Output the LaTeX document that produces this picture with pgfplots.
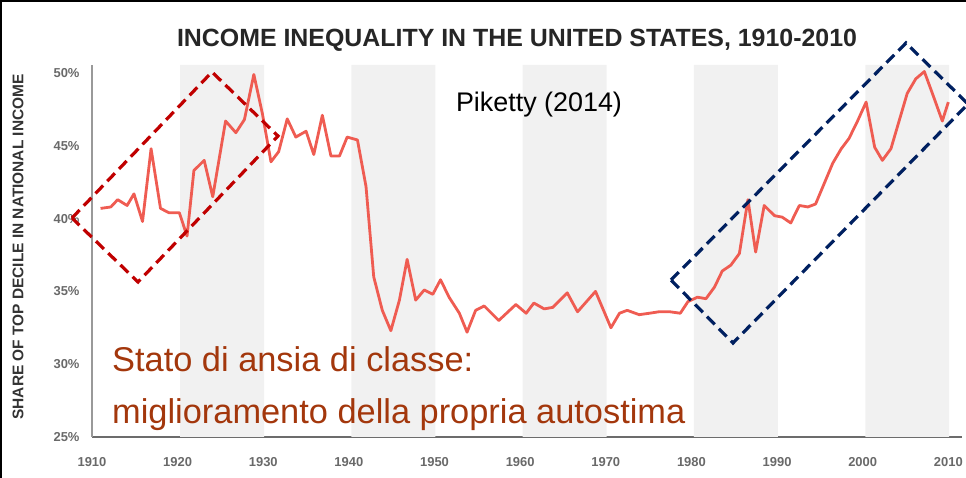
\documentclass[border=0pt]{standalone}
\usepackage{pgfplots}
\pgfplotsset{compat=1.18}
\usepackage{fontspec}
\setmainfont{Liberation Sans}
\definecolor{linered}{RGB}{239,92,82}
\definecolor{bandgray}{RGB}{241,241,241}
\definecolor{ticktxt}{RGB}{105,105,105}
\definecolor{annot}{RGB}{163,55,12}
\definecolor{boxred}{RGB}{192,0,0}
\definecolor{boxblue}{RGB}{0,32,96}
\begin{document}
\begin{tikzpicture}[x=1bp,y=1bp]
\path[use as bounding box] (0,0) rectangle (966,478);
\begin{axis}[
  at={(92bp,41bp)}, anchor=south west,
  scale only axis, width=870bp, height=372bp,
  xmin=1910, xmax=2011.6, ymin=25, ymax=50.55,
  axis lines=left,
  x axis line style={-, draw=gray!85!black, line width=2bp},
  y axis line style={-, draw=gray!80, line width=1.5bp},
  xtick={1910,1920,...,2010},
  xticklabels={1910,1920,1930,1940,1950,1960,1970,1980,1990,2000,2010},
  ytick={25,30,...,50},
  yticklabels={25\%,30\%,35\%,40\%,45\%,50\%},
  major tick length=0pt,
  tick label style={font=\fontsize{13}{13}\selectfont\bfseries, text=ticktxt},
  xticklabel style={yshift=-17bp},
  yticklabel style={xshift=-9bp},
  clip=false,
]
\addplot[fill=bandgray, draw=none] coordinates {(1920.3,25) (1930.1,25) (1930.1,50.55) (1920.3,50.55)} \closedcycle;
\addplot[fill=bandgray, draw=none] coordinates {(1940.3,25) (1950.1,25) (1950.1,50.55) (1940.3,50.55)} \closedcycle;
\addplot[fill=bandgray, draw=none] coordinates {(1960.3,25) (1970.1,25) (1970.1,50.55) (1960.3,50.55)} \closedcycle;
\addplot[fill=bandgray, draw=none] coordinates {(1980.3,25) (1990.1,25) (1990.1,50.55) (1980.3,50.55)} \closedcycle;
\addplot[fill=bandgray, draw=none] coordinates {(2000.3,25) (2010.1,25) (2010.1,50.55) (2000.3,50.55)} \closedcycle;
\addplot[linered, line width=2.8bp, line join=round, mark=none] table {
x y
1911.0 40.7
1912.2 40.8
1913.0 41.3
1914.1 40.9
1914.9 41.7
1915.9 39.8
1916.9 44.8
1918.0 40.7
1919.0 40.4
1920.2 40.4
1921.1 38.8
1921.9 43.3
1923.1 44.0
1924.1 41.5
1925.6 46.7
1926.8 45.9
1927.8 46.8
1928.9 49.9
1929.9 47.2
1930.9 43.9
1931.8 44.6
1932.8 46.85
1933.8 45.6
1935.0 46.0
1935.9 44.4
1936.9 47.1
1937.9 44.3
1938.9 44.3
1939.8 45.6
1941.0 45.4
1942.0 42.2
1942.9 36.0
1943.9 33.7
1944.9 32.3
1945.9 34.4
1946.8 37.2
1947.8 34.4
1948.8 35.1
1949.8 34.8
1950.7 35.8
1951.7 34.6
1952.9 33.5
1953.8 32.2
1954.8 33.7
1955.8 34.0
1957.5 33.0
1959.5 34.1
1960.7 33.5
1961.6 34.2
1962.8 33.8
1963.8 33.9
1965.5 34.9
1966.7 33.6
1968.8 35.0
1970.6 32.5
1971.6 33.5
1972.5 33.7
1973.9 33.4
1975.1 33.5
1976.2 33.6
1977.5 33.6
1978.7 33.5
1979.6 34.3
1980.7 34.6
1981.7 34.5
1982.7 35.3
1983.6 36.4
1984.6 36.8
1985.6 37.6
1986.6 41.3
1987.5 37.7
1988.5 40.9
1989.7 40.2
1990.6 40.1
1991.6 39.7
1992.6 40.9
1993.6 40.8
1994.5 41.0
1995.5 42.4
1996.5 43.8
1997.5 44.8
1998.4 45.5
1999.4 46.7
2000.4 48.0
2001.4 44.9
2002.3 44.0
2003.3 44.8
2004.3 46.8
2005.2 48.6
2006.2 49.6
2007.2 50.1
2008.2 48.5
2009.3 46.7
2010.0 48.0
};
\end{axis}
% frame
\draw[black, line width=1.5bp] (1,0) -- (1,477) -- (966,477);
% titles and texts
\node[font=\fontsize{25}{25}\selectfont\bfseries, text=black!85] at (517,438) {INCOME INEQUALITY IN THE UNITED STATES, 1910-2010};
\node[font=\fontsize{15.5}{15.5}\selectfont\bfseries, text=black!80, rotate=90] at (18,231) {SHARE OF TOP DECILE IN NATIONAL INCOME};
\node[font=\fontsize{27}{27}\selectfont, text=black] at (539,373) {Piketty (2014)};
\node[font=\fontsize{34.5}{34.5}\selectfont, text=annot, anchor=base west, inner sep=0pt] at (112,106) {Stato di ansia di classe:};
\node[font=\fontsize{34.5}{34.5}\selectfont, text=annot, anchor=base west, inner sep=0pt] at (112,54) {miglioramento della propria autostima};
% dashed boxes
\draw[boxred, line width=3.2bp, dash pattern=on 11bp off 6bp] (72,260) -- (212,406) -- (278,342) -- (138,196) -- cycle;
\draw[boxblue, line width=3.2bp, dash pattern=on 11bp off 6bp] (671,198) -- (906,435) -- (968,374) -- (733,135) -- cycle;
\end{tikzpicture}
\end{document}
